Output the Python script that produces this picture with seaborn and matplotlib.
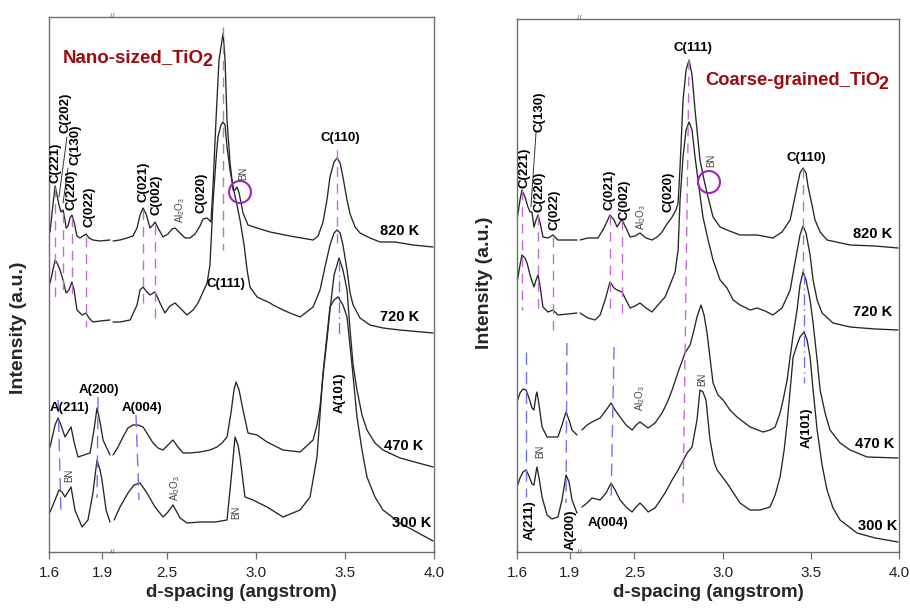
import numpy as np
import pandas as pd
import matplotlib
matplotlib.use("Agg")
import matplotlib.pyplot as plt
import seaborn as sns

# ---------------- data (d-spacing in angstrom, intensity in a.u., curves already stacked) -------------
temps = ["820 K", "720 K", "470 K", "300 K"]

nano_820_d = [1.606,1.622,1.634,1.645,1.656,1.667,1.679,1.690,1.696,1.707,1.718,1.729,1.741,1.757,1.774,1.791,1.808,1.825,1.847,1.887,1.943,
              2.195,2.234,2.274,2.307,2.330,2.347,2.364,2.381,2.403,2.420,2.431,2.448,2.476,2.504,2.527,2.544,2.566,2.600,2.628,2.656,
              2.684,2.701,2.724,2.746,2.757,2.774,2.791,2.814,2.825,2.836,2.853,2.870,2.881,2.892,2.904,2.926,2.954,3.005,3.078,3.190,
              3.320,3.348,3.376,3.398,3.415,3.438,3.455,3.472,3.488,3.511,3.528,3.556,3.584,3.640,3.697,3.781,3.882,3.995]
nano_820_I = [320,347,366,357,347,340,342,332,324,326,334,337,330,316,314,316,318,314,312,311,312,
              311,312,314,316,324,337,344,338,324,327,330,324,315,318,323,324,320,314,314,318,
              326,333,334,330,365,432,492,519,492,432,389,362,362,365,359,339,327,324,320,316,
              312,316,330,352,375,390,394,389,375,352,338,325,319,314,310,310,307,305]

nano_720_d = [1.606,1.622,1.634,1.645,1.662,1.679,1.696,1.712,1.729,1.741,1.757,1.786,1.808,1.825,1.847,1.887,1.943,
              2.195,2.234,2.291,2.330,2.347,2.364,2.386,2.403,2.431,2.459,2.487,2.515,2.544,2.572,2.611,2.645,2.673,2.701,2.724,2.740,
              2.757,2.774,2.785,2.802,2.814,2.825,2.836,2.853,2.870,2.892,2.909,2.932,2.949,2.965,3.005,3.078,3.095,3.151,3.190,3.247,
              3.320,3.359,3.387,3.415,3.438,3.455,3.472,3.488,3.511,3.528,3.545,3.584,3.640,3.713,3.809,3.995]
nano_720_I = [269,282,292,289,282,272,259,262,270,262,242,237,239,234,230,231,232,
              230,230,232,247,262,265,260,257,260,249,239,246,249,244,237,242,249,260,269,287,
              349,392,415,427,430,427,405,382,365,347,332,307,282,265,255,249,247,242,239,235,
              245,262,285,307,319,322,319,307,282,259,247,234,227,224,222,219]

nano_470_d = [1.606,1.634,1.651,1.667,1.690,1.707,1.724,1.741,1.763,1.831,1.853,1.870,1.887,1.904,1.943,
              2.195,2.223,2.251,2.279,2.307,2.336,2.364,2.392,2.420,2.448,2.476,2.504,2.532,2.560,2.589,2.628,2.684,2.740,2.780,2.808,
              2.836,2.859,2.875,2.887,2.904,2.926,2.954,3.005,3.061,3.151,3.247,3.320,3.342,3.359,3.376,3.398,3.415,3.438,3.466,3.488,
              3.511,3.528,3.545,3.567,3.595,3.623,3.668,3.713,3.809,3.995]
nano_470_I = [105,127,134,127,115,120,125,110,95,99,122,144,130,112,97,
              97,105,115,124,127,127,125,117,109,104,102,107,112,105,99,99,100,102,105,109,
              115,140,162,170,162,142,119,117,110,102,100,112,127,145,177,212,242,277,294,282,
              262,222,187,162,137,122,109,102,94,85]

nano_300_d = [1.606,1.634,1.656,1.673,1.690,1.707,1.724,1.746,1.786,1.819,1.847,1.870,1.887,1.898,1.921,1.943,
              2.201,2.234,2.279,2.313,2.347,2.386,2.431,2.476,2.504,2.532,2.572,2.611,2.684,2.769,2.836,2.853,2.864,2.881,2.898,2.909,
              2.937,2.982,3.061,3.151,3.247,3.303,3.342,3.376,3.415,3.438,3.460,3.488,3.511,3.539,3.567,3.595,3.623,3.668,3.713,3.809,3.995]
nano_300_I = [40,52,62,60,55,60,65,42,25,32,59,92,82,72,42,30,
              32,45,59,67,69,59,45,35,40,47,34,29,30,30,32,62,82,115,107,95,
              55,52,45,35,42,55,95,179,245,252,255,247,235,187,135,102,75,55,42,29,11]

coarse_820_d = [1.600,1.617,1.628,1.645,1.662,1.674,1.685,1.696,1.708,1.719,1.730,1.747,1.776,1.804,1.832,1.889,1.940,
                2.192,2.237,2.294,2.328,2.362,2.385,2.402,2.419,2.430,2.453,2.476,2.504,2.532,2.566,2.600,2.629,2.657,2.685,2.714,2.736,
                2.748,2.759,2.776,2.793,2.810,2.827,2.844,2.872,2.895,2.912,2.946,2.986,3.025,3.099,3.196,3.286,3.337,3.383,3.422,3.439,
                3.456,3.473,3.485,3.507,3.524,3.553,3.592,3.723,3.865,3.995]
coarse_820_I = [332,352,362,355,345,340,340,325,332,337,330,315,314,317,312,312,312,
                312,314,314,324,337,332,325,330,332,324,315,316,319,314,312,315,320,328,335,342,
                349,385,452,482,492,477,442,392,372,359,335,325,322,317,317,314,320,332,365,379,
                384,379,365,347,332,320,312,307,306,304]

coarse_720_d = [1.600,1.617,1.628,1.645,1.657,1.674,1.696,1.708,1.719,1.730,1.747,1.776,1.804,1.832,1.889,1.940,
                2.192,2.237,2.277,2.306,2.334,2.362,2.385,2.402,2.430,2.453,2.476,2.504,2.532,2.566,2.600,2.634,2.674,2.702,2.731,2.748,
                2.759,2.776,2.793,2.810,2.827,2.844,2.872,2.889,2.918,2.946,2.986,3.025,3.060,3.099,3.156,3.196,3.241,3.286,3.337,3.383,
                3.411,3.439,3.456,3.473,3.496,3.513,3.536,3.564,3.626,3.723,3.865,3.995]
coarse_720_I = [269,287,297,294,289,277,265,272,277,267,245,240,242,237,238,239,
                239,234,232,237,252,270,264,262,260,252,244,246,249,244,240,247,255,267,280,302,
                352,395,422,430,422,395,357,335,312,292,272,264,252,247,242,244,241,237,244,262,
                290,317,326,319,297,272,252,239,229,225,223,222]

coarse_470_d = [1.600,1.617,1.634,1.651,1.668,1.685,1.696,1.708,1.713,1.725,1.742,1.770,1.832,1.855,1.878,1.895,1.912,1.940,
                2.203,2.232,2.260,2.306,2.340,2.368,2.391,2.419,2.453,2.487,2.510,2.532,2.555,2.578,2.617,2.657,2.685,2.714,2.748,2.787,
                2.816,2.838,2.855,2.878,2.895,2.912,2.929,2.946,2.974,3.003,3.042,3.082,3.156,3.230,3.269,3.298,3.326,3.343,3.366,3.383,
                3.400,3.422,3.439,3.456,3.473,3.496,3.513,3.536,3.553,3.581,3.609,3.666,3.723,3.819,3.995]
coarse_470_I = [150,159,163,162,154,144,142,157,160,147,125,115,115,127,140,132,122,117,
                122,127,130,134,142,149,142,135,127,122,127,130,127,124,129,139,149,162,180,199,
                207,222,235,247,237,219,194,169,157,152,142,135,125,120,122,125,139,152,172,195,
                217,242,267,280,272,252,229,192,162,139,122,109,102,95,94]

coarse_300_d = [1.600,1.617,1.634,1.651,1.668,1.685,1.696,1.708,1.713,1.725,1.742,1.770,1.798,1.832,1.855,1.878,1.895,1.912,1.940,
                2.203,2.232,2.260,2.306,2.340,2.368,2.391,2.419,2.453,2.487,2.510,2.532,2.555,2.578,2.617,2.674,2.714,2.748,2.799,2.827,
                2.855,2.872,2.889,2.906,2.929,2.952,2.969,3.025,3.099,3.156,3.213,3.269,3.298,3.326,3.349,3.366,3.383,3.400,3.422,3.439,
                3.462,3.479,3.496,3.513,3.536,3.564,3.592,3.626,3.666,3.762,3.865,3.995]
coarse_300_I = [65,74,80,82,76,68,67,80,85,74,55,37,33,35,52,77,70,52,39,
                45,49,54,52,59,69,62,52,45,40,45,49,45,40,44,59,72,82,99,105,
                132,162,160,152,112,90,82,69,49,42,42,45,57,75,102,129,162,195,207,215,
                220,212,195,162,122,87,62,44,32,19,14,10]

x_ticks = [1.6, 1.9, 2.5, 3.0, 3.5, 4.0]
x_ticklabels = ["1.6", "1.9", "2.5", "3.0", "3.5", "4.0"]

# reference peak markers: (d_top, d_bottom, I_top, I_bottom)
nano_magenta = [(1.634,1.634,365,252),(1.679,1.679,339,262),(1.729,1.729,335,252),(1.808,1.808,315,225),
                (2.364,2.364,342,242),(2.431,2.431,327,229),(2.814,2.814,525,302),(3.455,3.455,402,309)]
nano_blue = [(1.651,1.667,152,42),(1.876,1.870,155,54),(2.324,2.341,137,52)]
nano_blue_dd = [(3.466,3.466,292,215)]
coarse_magenta = [(1.628,1.628,362,242),(1.719,1.719,337,237),(1.804,1.804,315,219),(2.362,2.362,337,242),
                  (2.430,2.430,332,232),(2.810,2.776,492,49),(3.456,3.456,384,280)]
coarse_blue = [(1.651,1.651,200,55),(1.883,1.878,209,49),(2.385,2.368,205,52)]
coarse_blue_dd = [(3.462,3.462,279,169)]

# ---------------- style ----------------
sns.set_style("white")
plt.rcParams["font.family"] = ["Liberation Sans", "DejaVu Sans"]
plt.rcParams["mathtext.fontset"] = "custom"
plt.rcParams["mathtext.rm"] = "Liberation Sans"
plt.rcParams["mathtext.bf"] = "Liberation Sans:bold"
plt.rcParams["mathtext.it"] = "Liberation Sans:italic"

BREAK_LO, BREAK_HI = 1.955, 2.19
KD = [0.0, BREAK_LO, BREAK_HI, 10.0]
KU = [0.0, BREAK_LO, BREAK_LO + 1e-4, 10.0 - (BREAK_HI - BREAK_LO) + 1e-4]


def fwd(d):
    return np.interp(np.asarray(d, dtype=float), KD, KU)


def inv(u):
    return np.interp(np.asarray(u, dtype=float), KU, KD)


def frame(temp, d, I):
    d = np.asarray(d, float)
    seg = np.where(d < BREAK_LO, "a", "b")
    return pd.DataFrame({"temp": temp, "d": d, "I": np.asarray(I, float),
                         "unit": [f"{temp}-{s}" for s in seg]})


nano_df = pd.concat([frame(temps[0], nano_820_d, nano_820_I), frame(temps[1], nano_720_d, nano_720_I),
                     frame(temps[2], nano_470_d, nano_470_I), frame(temps[3], nano_300_d, nano_300_I)])
coarse_df = pd.concat([frame(temps[0], coarse_820_d, coarse_820_I), frame(temps[1], coarse_720_d, coarse_720_I),
                       frame(temps[2], coarse_470_d, coarse_470_I), frame(temps[3], coarse_300_d, coarse_300_I)])

fig = plt.figure(figsize=(9.1, 6.1), dpi=100)
axL = fig.add_axes([49 / 910, 58 / 610, 385 / 910, 535 / 610])
axR = fig.add_axes([517 / 910, 58 / 610, 382 / 910, 533 / 610])

MAG = "#c86ad8"
BLUE = "#6f74f0"
CURVE = "#262626"
SPINE = "#6e6e6e"
TITLE_RED = "#9e0b0f"


def setup(ax, df, ytop, mag, blue, blue_dd):
    ax.set_xscale("function", functions=(fwd, inv))
    sns.lineplot(data=df, x="d", y="I", units="unit", estimator=None, color=CURVE,
                 lw=0.95, ax=ax, legend=False, zorder=2)
    for d0, d1, i0, i1 in mag:
        ax.plot([d0, d1], [i0, i1], color=MAG, lw=1.0, ls=(0, (7, 5)), zorder=3)
    for d0, d1, i0, i1 in blue:
        ax.plot([d0, d1], [i0, i1], color=BLUE, lw=1.0, ls=(0, (9, 5)), zorder=3)
    for d0, d1, i0, i1 in blue_dd:
        ax.plot([d0, d1], [i0, i1], color=BLUE, lw=1.0, ls=(0, (8, 3, 1, 3)), zorder=3)
    ax.set_xlim(1.6, 4.0)
    ax.set_ylim(0, ytop)
    ax.set_xticks(x_ticks)
    ax.set_xticklabels(x_ticklabels)
    ax.xaxis.set_minor_locator(matplotlib.ticker.NullLocator())
    ax.set_yticks([])
    ax.tick_params(axis="x", direction="out", length=5, width=0.9, color=SPINE,
                   labelsize=11, pad=5, labelcolor="#222222", bottom=True)
    for s in ax.spines.values():
        s.set_color(SPINE)
        s.set_linewidth(1.0)
        s.set_visible(True)
    ax.set_xlabel("d-spacing (angstrom)", fontsize=13.5, fontweight="bold", labelpad=3)
    ax.set_ylabel("Intensity (a.u.)", fontsize=14, fontweight="bold")
    # axis break marks
    tr = matplotlib.transforms.blended_transform_factory(ax.transData, ax.transAxes)
    for yy in (0, 1):
        ax.text(2.07, yy, "//", transform=tr, fontsize=6, ha="center", va="center",
                color="#555555", clip_on=False)


setup(axL, nano_df, 535, nano_magenta, nano_blue, nano_blue_dd)
setup(axR, coarse_df, 533, coarse_magenta, coarse_blue, coarse_blue_dd)
axL.yaxis.set_label_coords(-0.056, 0.42)
axR.yaxis.set_label_coords(-0.063, 0.505)

LS = 9.5


def lab(ax, d, I, s, rot=0, size=LS, weight="bold", color="black", ha="center", va="center"):
    ax.text(d, I, s, rotation=rot, fontsize=size, fontweight=weight, color=color,
            ha=ha, va=va, zorder=5)


def small(ax, d, I, s, va="center"):
    ax.text(d, I, s, rotation=90, fontsize=7, color="#444444", ha="center", va=va, zorder=5)


def sample_title(ax, d, I, s, size):
    t = ax.text(d, I, s, fontsize=size, fontweight="bold", color=TITLE_RED,
                ha="left", va="baseline", zorder=5)
    ax.annotate("2", xy=(1, 0), xycoords=t, xytext=(-1.0, -2.8), textcoords="offset points",
                fontsize=size - 0.5, fontweight="bold", color=TITLE_RED, ha="left", va="bottom",
                zorder=5)


# ---- left panel annotations ----
lab(axL, 1.634, 369, "C(221)", rot=90, va="bottom")
lab(axL, 1.692, 419, "C(202)", rot=90, va="bottom")
lab(axL, 1.748, 387, "C(130)", rot=90, va="bottom")
lab(axL, 1.729, 342, "C(220)", rot=90, va="bottom")
lab(axL, 1.825, 325, "C(022)", rot=90, va="bottom")
lab(axL, 2.369, 350, "C(021)", rot=90, va="bottom")
lab(axL, 2.442, 337, "C(002)", rot=90, va="bottom")
small(axL, 2.572, 329, "Al$_2$O$_3$", va="bottom")
lab(axL, 2.695, 339, "C(020)", rot=90, va="bottom")
small(axL, 2.926, 372, "BN", va="bottom")
lab(axL, 3.472, 414, "C(110)")
lab(axL, 2.830, 268, "C(111)")
lab(axL, 1.718, 144, "A(211)")
lab(axL, 1.881, 162, "A(200)")
lab(axL, 2.358, 144, "A(004)")
lab(axL, 3.472, 159, "A(101)", rot=90)
small(axL, 1.712, 77, "BN")
small(axL, 2.544, 64, "Al$_2$O$_3$")
small(axL, 2.887, 40, "BN")
for t, (d, I) in zip(temps, [(3.809, 321), (3.809, 235), (3.832, 106), (3.876, 29)]):
    lab(axL, d, I, t, size=10.5)
sample_title(axL, 1.679, 490, "Nano-sized_TiO", 13.5)
axL.plot([1.656, 1.701], [355, 415], color="#333333", lw=0.7, zorder=4)
axL.plot([1.679, 1.707], [349, 384], color="#333333", lw=0.7, zorder=4)
axL.scatter([2.909], [360], s=250, facecolors="none", edgecolors="#a41fbf", linewidths=1.5, zorder=6)

# ---- right panel annotations ----
lab(axR, 2.833, 504, "C(111)")
sample_title(axR, 2.901, 467, "Coarse-grained_TiO", 13.2)
lab(axR, 1.645, 364, "C(221)", rot=90, va="bottom")
lab(axR, 1.725, 420, "C(130)", rot=90, va="bottom")
lab(axR, 1.730, 340, "C(220)", rot=90, va="bottom")
lab(axR, 1.815, 322, "C(022)", rot=90, va="bottom")
lab(axR, 2.362, 342, "C(021)", rot=90, va="bottom")
lab(axR, 2.447, 332, "C(002)", rot=90, va="bottom")
small(axR, 2.538, 322, "Al$_2$O$_3$", va="bottom")
lab(axR, 2.691, 340, "C(020)", rot=90, va="bottom")
small(axR, 2.935, 385, "BN", va="bottom")
lab(axR, 3.473, 394, "C(110)")
lab(axR, 3.479, 124, "A(101)", rot=90)
small(axR, 2.884, 173, "BN")
small(axR, 2.532, 154, "Al$_2$O$_3$")
small(axR, 1.730, 101, "BN")
lab(axR, 1.674, 32, "A(211)", rot=90)
lab(axR, 1.906, 22, "A(200)", rot=90)
lab(axR, 2.351, 29, "A(004)")
for t, (d, I) in zip(temps, [(3.853, 318), (3.853, 240), (3.865, 108), (3.882, 26)]):
    lab(axR, d, I, t, size=10.5)
axR.plot([1.679, 1.708], [345, 420], color="#333333", lw=0.7, zorder=4)
axR.scatter([2.923], [370], s=250, facecolors="none", edgecolors="#a41fbf", linewidths=1.5, zorder=6)

fig.savefig("out.png", dpi=100)
